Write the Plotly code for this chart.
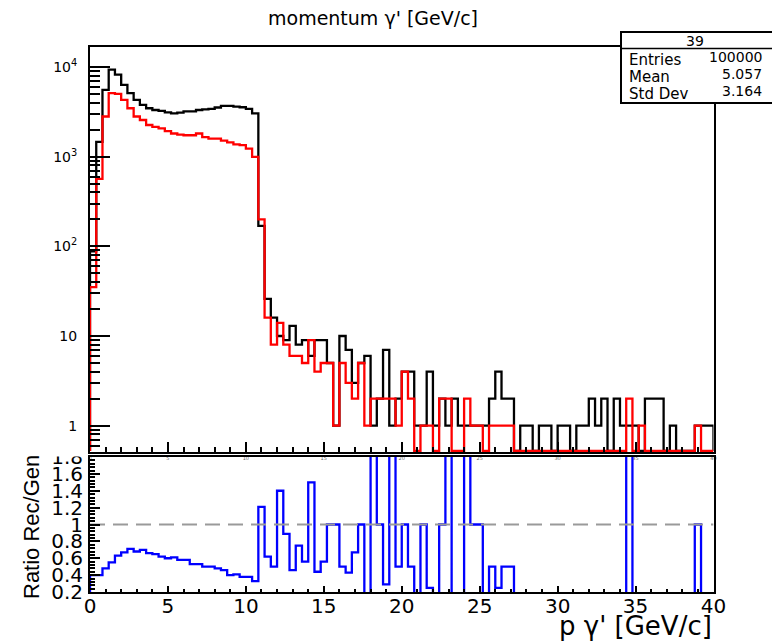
import plotly.graph_objects as go

W, H = 772, 643

# ---------------- data ----------------
x_min, x_max, n_bins = 0.0, 40.0, 100
bin_width = (x_max - x_min) / n_bins
edges = [round(x_min + bin_width * i, 3) for i in range(n_bins + 1)]

# generated (black) counts per 0.4 GeV/c bin
gen = [88, 1460, 5560, 9330, 8190, 6320, 5100, 4300, 3770, 3460,
       3310, 3230, 3120, 3040, 3090, 3200, 3200, 3310, 3370, 3400,
       3530, 3670, 3670, 3600, 3550, 3400, 3040, 169, 26, 16,
       10, 9, 13, 8, 9, 6, 9, 9, 5, 1,
       10, 7, 3, 5, 6, 1, 2, 7, 1, 2,
       4, 4, 1, 1, 4, 1, 2, 1, 2, 1,
       1, 1, 1, 1, 2, 4, 2, 2, 0, 1,
       1, 0, 1, 1, 0, 1, 1, 0, 1, 1,
       2, 1, 2, 0, 2, 1, 1, 1, 0, 2,
       2, 2, 0, 1, 0, 0, 0, 1, 1, 1]

# reconstructed (red) counts
rec = [35, 565, 2800, 5100, 5000, 4300, 3460, 2800, 2560, 2250,
       2150, 2060, 1920, 1810, 1760, 1730, 1730, 1810, 1650, 1590,
       1590, 1510, 1440, 1370, 1340, 1230, 992, 200, 16, 8,
       14, 8, 6, 6, 5, 9, 4, 5, 5, 1,
       5, 3, 2, 5, 1, 2, 2, 2, 2, 1,
       4, 2, 0, 1, 1, 0, 2, 2, 0, 0,
       2, 1, 1, 0, 1, 1, 1, 1, 0, 0,
       0, 0, 0, 0, 0, 0, 0, 0, 0, 0,
       0, 0, 0, 0, 0, 0, 2, 0, 1, 0,
       0, 0, 0, 0, 0, 0, 0, 1, 0, 0]

# ratio Rec/Gen as drawn in the lower pad
ratio = [0.40, 0.40, 0.48, 0.55, 0.63, 0.67, 0.71, 0.68, 0.70, 0.66,
         0.65, 0.62, 0.60, 0.61, 0.58, 0.58, 0.53, 0.53, 0.50, 0.50,
         0.48, 0.46, 0.40, 0.41, 0.38, 0.38, 0.33, 1.21, 0.62, 0.50,
         1.40, 0.89, 0.46, 0.75, 0.56, 1.50, 0.44, 0.56, 1.00, 1.00,
         0.50, 0.43, 0.67, 1.00, 0.17, 2.00, 1.00, 0.29, 2.00, 0.50,
         1.00, 0.50, 0.00, 1.00, 0.25, 0.00, 1.00, 2.00, 0.00, 0.00,
         2.00, 1.00, 1.00, 0.00, 0.50, 0.25, 0.50, 0.50, 0.00, 0.00,
         0.00, 0.00, 0.00, 0.00, 0.00, 0.00, 0.00, 0.00, 0.00, 0.00,
         0.00, 0.00, 0.00, 0.00, 0.00, 0.00, 2.00, 0.00, 0.00, 0.00,
         0.00, 0.00, 0.00, 0.00, 0.00, 0.00, 0.00, 1.00, 0.00, 0.00]

stats_name = "39"
stats_rows = [("Entries", "100000"), ("Mean", "5.057"), ("Std Dev", "3.164")]
title_text = "momentum \u03b3' [GeV/c]"
x_title = "p \u03b3' [GeV/c]"
y2_title = "Ratio Rec/Gen"
log_ticks = [1, 10, 100, 1000, 10000]
log_tick_text = ["1", "10", "10<sup>2</sup>", "10<sup>3</sup>", "10<sup>4</sup>"]
ratio_ticks = [0.2, 0.4, 0.6, 0.8, 1.0, 1.2, 1.4, 1.6, 1.8]
ratio_tick_text = ["0.2", "0.4", "0.6", "0.8", "1", "1.2", "1.4", "1.6", "1.8"]

# ---------------- layout geometry (pixels) ----------------
FX0, FX1 = 90, 713.5           # frame left/right
T_TOP, T_BOT = 47, 452         # upper pad frame
B_TOP, B_BOT = 457, 592        # lower pad frame
LOG_MIN, LOG_MAX = -0.293, 4.222
R_MIN, R_MAX = 0.2, 1.8

def px(x):
    return x / W

def py(y):
    return 1 - y / H

floor = 10 ** (LOG_MIN + 0.012)

def step(vals, low):
    v = [c if c > 0 else low for c in vals]
    xs = [edges[0]] + edges[:-1] + [edges[-1], edges[-1]]
    ys = [low] + v + [v[-1], low]
    return xs, ys

FONT = "DejaVu Sans, Verdana, sans-serif"
FONT_NARROW = "Liberation Sans, Arial, Helvetica, sans-serif"

fig = go.Figure()

gx, gy = step(gen, floor)
rx, ry = step(rec, floor)
fig.add_trace(go.Scatter(x=gx, y=gy, mode="lines", line=dict(color="black", width=2.3, shape="hv"),
                         xaxis="x", yaxis="y", showlegend=False, hoverinfo="skip"))
fig.add_trace(go.Scatter(x=rx, y=ry, mode="lines", line=dict(color="#ff0000", width=2.3, shape="hv"),
                         xaxis="x", yaxis="y", showlegend=False, hoverinfo="skip"))

qx, qy = step(ratio, -1.0)
fig.add_trace(go.Scatter(x=qx, y=qy, mode="lines", line=dict(color="#0000ff", width=2.3, shape="hv"),
                         xaxis="x2", yaxis="y2", showlegend=False, hoverinfo="skip"))
fig.add_trace(go.Scatter(x=[x_min, x_max], y=[1, 1], mode="lines",
                         line=dict(color="#9a9a9a", width=2, dash="15px,8px"),
                         xaxis="x2", yaxis="y2", showlegend=False, hoverinfo="skip"))

axis_common = dict(showgrid=False, zeroline=False, showline=True, mirror=True, automargin=False,
                   linecolor="black", linewidth=2, ticks="inside", tickcolor="black")

fig.update_layout(
    width=W, height=H, margin=dict(l=0, r=0, t=0, b=0, autoexpand=False),
    paper_bgcolor="white", plot_bgcolor="white",
    font=dict(family=FONT, color="black"),
    xaxis=dict(domain=[px(FX0), px(FX1)], range=[x_min, x_max], anchor="y",
               dtick=5, tick0=0, ticklen=10, tickwidth=1.5,
               minor=dict(dtick=1, ticklen=5, ticks="inside", tickcolor="black", tickwidth=1.5),
               tickfont=dict(size=5, color="#666"), **axis_common),
    yaxis=dict(domain=[py(T_BOT), py(T_TOP)], type="log", range=[LOG_MIN, LOG_MAX], anchor="x",
               tickmode="array", tickvals=log_ticks, ticktext=log_tick_text,
               ticklen=20, tickwidth=1.5, ticklabelstandoff=8,
               minor=dict(dtick="D1", ticklen=10, ticks="inside", tickcolor="black", tickwidth=1.5),
               tickfont=dict(size=14), **axis_common),
    xaxis2=dict(domain=[px(FX0), px(FX1)], range=[x_min, x_max], anchor="y2",
                dtick=5, tick0=0, ticklen=6, tickwidth=1.5, ticklabelstandoff=-5,
                minor=dict(dtick=1, ticklen=3, ticks="inside", tickcolor="black", tickwidth=1.5),
                tickfont=dict(size=20), **axis_common),
    yaxis2=dict(domain=[py(B_BOT), py(B_TOP)], range=[R_MIN, R_MAX], anchor="x2",
                tickmode="array", tickvals=ratio_ticks, ticktext=ratio_tick_text,
                ticklen=10, tickwidth=1.5, ticklabelstandoff=1,
                minor=dict(dtick=0.04, tick0=0, ticklen=5, ticks="inside", tickcolor="black", tickwidth=1.5),
                tickfont=dict(size=20), **axis_common),
)

shapes = []
# white mask hiding the upper part of the topmost ratio label (covered by the upper pad)
shapes.append(dict(type="rect", xref="paper", yref="paper", x0=px(20), x1=px(FX0 - 2),
                   y0=py(456.5), y1=py(436), fillcolor="white", line=dict(width=0), layer="above"))
# statistics box
SB_X0, SB_X1, SB_Y0, SB_Y1, SB_SEP = 621, 776, 32, 103, 48.5
shapes.append(dict(type="rect", xref="paper", yref="paper", x0=px(SB_X0), x1=px(SB_X1),
                   y0=py(SB_Y1), y1=py(SB_Y0), fillcolor="white", line=dict(color="black", width=2), layer="above"))
shapes.append(dict(type="line", xref="paper", yref="paper", x0=px(SB_X0), x1=px(SB_X1),
                   y0=py(SB_SEP), y1=py(SB_SEP), line=dict(color="black", width=1.5), layer="above"))
fig.update_layout(shapes=shapes)

ann = []
ann.append(dict(text=title_text, x=px(373), y=py(18), xref="paper", yref="paper",
                xanchor="center", yanchor="middle", showarrow=False, font=dict(size=19)))
ann.append(dict(text=stats_name, x=px(695), y=py(41), xref="paper", yref="paper",
                xanchor="center", yanchor="middle", showarrow=False, font=dict(size=14)))
row_y = [(60, 57), (77, 74), (94, 91)]
for (lab, val), (ly, vy) in zip(stats_rows, row_y):
    ann.append(dict(text=lab, x=px(627), y=py(ly), xref="paper", yref="paper",
                    xanchor="left", yanchor="middle", showarrow=False, font=dict(size=15)))
    ann.append(dict(text=val, x=px(764), y=py(vy), xref="paper", yref="paper",
                    xanchor="right", yanchor="middle", showarrow=False, font=dict(size=14)))
ann.append(dict(text=x_title, x=px(714), y=py(626), xref="paper", yref="paper",
                xanchor="right", yanchor="middle", showarrow=False, font=dict(size=26)))
ann.append(dict(text=y2_title, x=px(31), y=py(527), xref="paper", yref="paper",
                xanchor="center", yanchor="middle", showarrow=False, textangle=-90,
                font=dict(size=22, family=FONT_NARROW)))
fig.update_layout(annotations=ann)

# the page is photographed from its top-left corner: drop the default body margin
fig.write_html("out.html", config={"displayModeBar": False},
               post_script="document.body.style.margin='0px';")
